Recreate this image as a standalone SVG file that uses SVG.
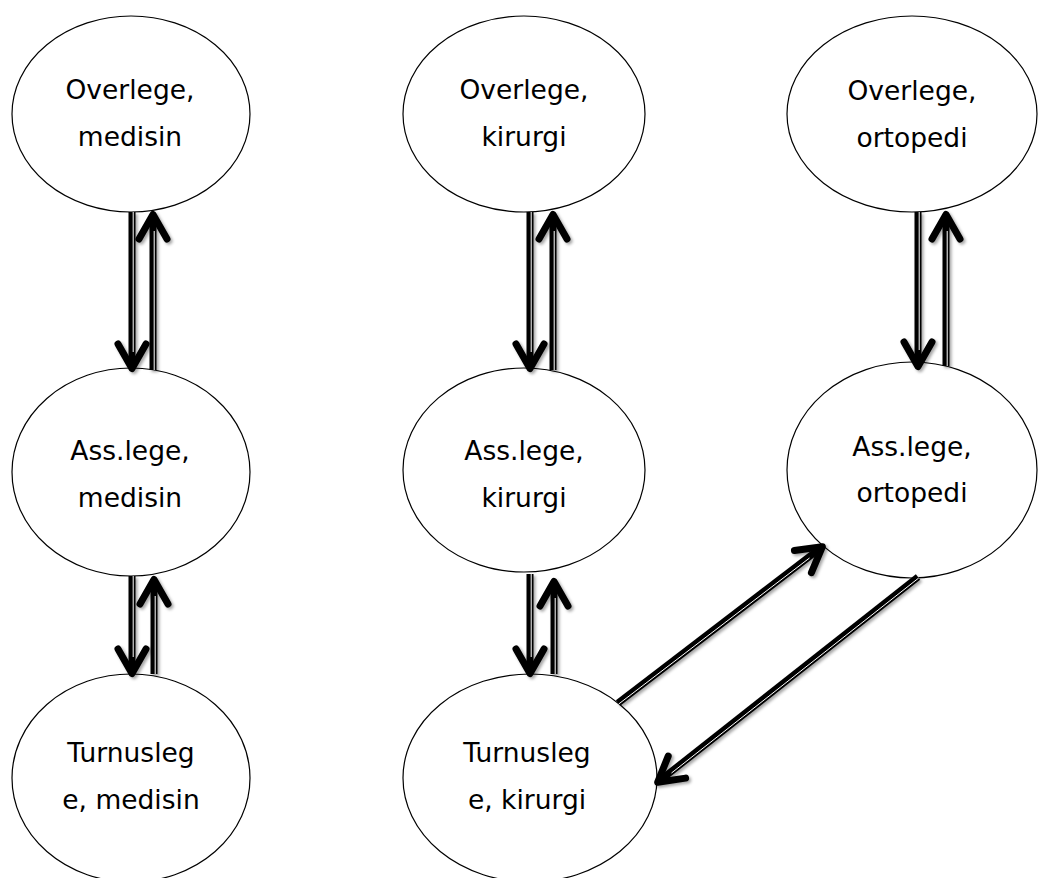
<svg xmlns="http://www.w3.org/2000/svg" width="1038" height="878" viewBox="0 0 1038 878">
  <style>
    .node ellipse { fill: #ffffff; stroke: #000000; stroke-width: 1.2; }
    .node text { font-family: "DejaVu Sans", "Liberation Sans", sans-serif; font-size: 26.5px; fill: #000000; text-anchor: middle; }
    .shaft { fill: none; stroke: #000000; stroke-width: 7; stroke-linecap: butt; marker-end: url(#chev); }
    .gap { fill: none; stroke: #ffffff; stroke-width: 1; }
  </style>
  <defs>
    <marker id="chev" markerUnits="userSpaceOnUse" viewBox="-35 -20 45 40" markerWidth="45" markerHeight="40" refX="-3" refY="0" orient="auto" overflow="visible">
      <path d="M-24,-14 L0.5,0 L-24,14" fill="none" stroke="#000000" stroke-width="7" stroke-linecap="round" stroke-linejoin="round"/>
    </marker>
    <filter id="soft" x="-20%" y="-20%" width="140%" height="140%">
      <feDropShadow dx="2" dy="2" stdDeviation="1.5" flood-color="#000000" flood-opacity="0.35"/>
    </filter>
  </defs>

  <rect width="1038" height="878" fill="#ffffff"/>

  <!-- nodes -->
  <g id="overlege-medisin" class="node">
    <ellipse cx="131" cy="114" rx="119" ry="98"/>
    <text x="130" y="99">Overlege,</text>
    <text x="130" y="146">medisin</text>
  </g>
  <g id="overlege-kirurgi" class="node">
    <ellipse cx="524" cy="114" rx="121" ry="98"/>
    <text x="524" y="99">Overlege,</text>
    <text x="524" y="146">kirurgi</text>
  </g>
  <g id="overlege-ortopedi" class="node">
    <ellipse cx="912" cy="114" rx="125" ry="98"/>
    <text x="912" y="100">Overlege,</text>
    <text x="912" y="147">ortopedi</text>
  </g>
  <g id="asslege-medisin" class="node">
    <ellipse cx="131" cy="472" rx="119" ry="104"/>
    <text x="130" y="460">Ass.lege,</text>
    <text x="130" y="507">medisin</text>
  </g>
  <g id="asslege-kirurgi" class="node">
    <ellipse cx="524" cy="470" rx="121" ry="102"/>
    <text x="524" y="460">Ass.lege,</text>
    <text x="524" y="507">kirurgi</text>
  </g>
  <g id="asslege-ortopedi" class="node">
    <ellipse cx="912" cy="470" rx="125" ry="108"/>
    <text x="912" y="456">Ass.lege,</text>
    <text x="912" y="502">ortopedi</text>
  </g>
  <g id="turnuslege-medisin" class="node">
    <ellipse cx="131" cy="778" rx="119" ry="104"/>
    <text x="131" y="762">Turnusleg</text>
    <text x="131" y="809">e, medisin</text>
  </g>
  <g id="turnuslege-kirurgi" class="node">
    <ellipse cx="530" cy="778" rx="127" ry="104"/>
    <text x="527" y="762">Turnusleg</text>
    <text x="527" y="809">e, kirurgi</text>
  </g>

  <!-- connectors: double-line shafts with open chevron heads -->
  <g id="connectors" filter="url(#soft)">
    <!-- medisin: overlege <-> ass.lege -->
    <path class="shaft" d="M132,212 L132,365"/>
    <path class="gap" d="M133.2,212 L133.2,352"/>
    <path class="shaft" d="M153,370 L153,218"/>
    <path class="gap" d="M154.2,370 L154.2,231"/>
    <!-- medisin: ass.lege <-> turnuslege -->
    <path class="shaft" d="M132,576 L132,670"/>
    <path class="gap" d="M133.2,576 L133.2,657"/>
    <path class="shaft" d="M154,674 L154,583"/>
    <path class="gap" d="M155.2,674 L155.2,596"/>
    <!-- kirurgi: overlege <-> ass.lege -->
    <path class="shaft" d="M530,212 L530,365"/>
    <path class="gap" d="M531.2,212 L531.2,352"/>
    <path class="shaft" d="M553,370 L553,218"/>
    <path class="gap" d="M554.2,370 L554.2,231"/>
    <!-- kirurgi: ass.lege <-> turnuslege -->
    <path class="shaft" d="M530,574 L530,670"/>
    <path class="gap" d="M531.2,574 L531.2,657"/>
    <path class="shaft" d="M554,674 L554,585"/>
    <path class="gap" d="M555.2,674 L555.2,598"/>
    <!-- ortopedi: overlege <-> ass.lege -->
    <path class="shaft" d="M918,212 L918,363"/>
    <path class="gap" d="M919.2,212 L919.2,350"/>
    <path class="shaft" d="M946,366 L946,218"/>
    <path class="gap" d="M947.2,366 L947.2,231"/>
    <!-- turnuslege kirurgi <-> ass.lege ortopedi -->
    <path class="shaft" d="M618,703 L819.6,548.8"/>
    <path class="gap" d="M618.7,704 L809.5,558"/>
    <path class="shaft" d="M918,577 L660.4,780.1"/>
    <path class="gap" d="M918.7,578 L671.5,773"/>
  </g>
</svg>
